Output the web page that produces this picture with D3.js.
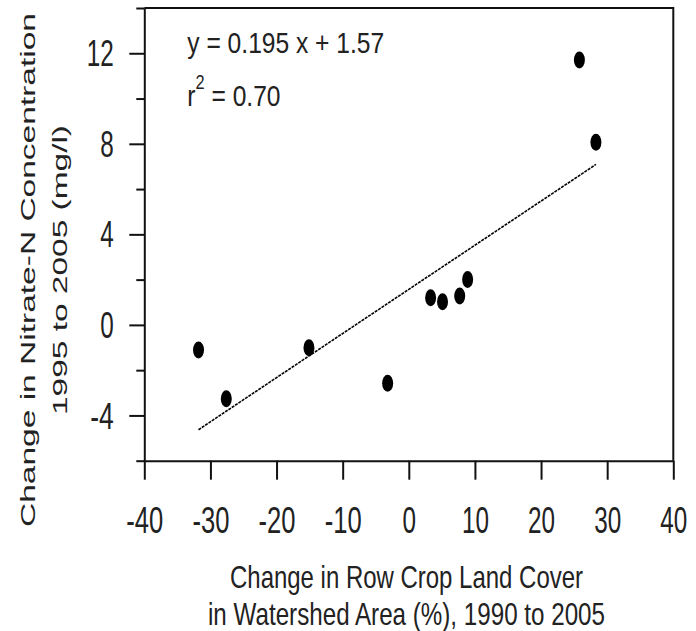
<!DOCTYPE html>
<html>
<head>
<meta charset="utf-8">
<script src="https://cdn.jsdelivr.net/npm/d3@7"></script>
<style>
  body { margin: 0; background: #fff; }
  svg { display: block; font-family: "Liberation Sans", Arial, sans-serif; }
</style>
</head>
<body>
<div id="chart"></div>
<script>
// Change in row crop land cover (%) vs change in nitrate-N (mg/l)
const rowCropChange = [-31.8, -27.6, -15.1, -3.2, 3.3, 5.1, 7.7, 8.9, 25.8, 28.3];
const nitrateChange = [-1.11, -3.26, -1.01, -2.58, 1.20, 1.02, 1.28, 2.01, 11.70, 8.07];

const xTicks = [-40, -30, -20, -10, 0, 10, 20, 30, 40];
const yMajorTicks = [-4, 0, 4, 8, 12];
const yMinorTicks = [-6, -2, 2, 6, 10, 14];

const fitSlope = 0.195;
const fitIntercept = 1.57;
const fitLabel = "y = 0.195 x + 1.57";
const r2Value = "0.70";

const xTitle = ["Change in Row Crop Land Cover", "in Watershed Area (%), 1990 to 2005"];
const yTitle = ["Change in Nitrate-N Concentration", "1995 to 2005 (mg/l)"];

const width = 696, height = 631;
const plotLeft = 144.3, plotRight = 673.3, plotTop = 8, plotBottom = 460.7;

const data = rowCropChange.map((x, i) => ({x, y: nitrateChange[i]}));

const x = d3.scaleLinear().domain([-40, 40]).range([plotLeft, plotRight]);
const y = d3.scaleLinear().domain([-6, 14]).range([plotBottom, plotTop]);

const svg = d3.select("#chart").append("svg")
  .attr("width", width)
  .attr("height", height)
  .attr("viewBox", [0, 0, width, height]);

// plain hyphen for negatives, as in the source
const fmt = d => String(d);
// squeezed digits, like the source picture
const labelWidth = s => s.replace("-", "").length * 13.5 + (s.includes("-") ? 10 : 0);

// x axis
svg.append("g")
  .attr("transform", `translate(0,${plotBottom})`)
  .call(d3.axisBottom(x).tickValues(xTicks).tickSize(19).tickSizeOuter(0).tickFormat(fmt))
  .call(g => g.selectAll("line, path").attr("stroke", "#111").attr("stroke-width", 2))
  .call(g => g.selectAll(".tick text")
    .attr("y", 72.6).attr("dy", 0)
    .attr("fill", "#222")
    .style("font-size", "36px")
    .attr("textLength", function() { return labelWidth(this.textContent); })
    .attr("lengthAdjust", "spacingAndGlyphs"));

// y axis, major ticks with labels
svg.append("g")
  .attr("transform", `translate(${plotLeft},0)`)
  .call(d3.axisLeft(y).tickValues(yMajorTicks).tickSize(15).tickSizeOuter(0).tickFormat(fmt))
  .call(g => g.selectAll("line, path").attr("stroke", "#111").attr("stroke-width", 2))
  .call(g => g.selectAll(".tick text")
    .attr("x", -30.5).attr("dy", "0.35em")
    .attr("fill", "#222")
    .style("font-size", "36px")
    .attr("textLength", function() { return labelWidth(this.textContent); })
    .attr("lengthAdjust", "spacingAndGlyphs"));

// y axis, minor ticks
svg.append("g")
  .attr("transform", `translate(${plotLeft},0)`)
  .call(d3.axisLeft(y).tickValues(yMinorTicks).tickSize(8).tickFormat(""))
  .call(g => g.select(".domain").remove())
  .call(g => g.selectAll("line").attr("stroke", "#111").attr("stroke-width", 2));

// top and right frame
svg.append("path")
  .attr("d", `M${plotLeft},${plotTop}H${plotRight}V${plotBottom}`)
  .attr("fill", "none")
  .attr("stroke", "#111")
  .attr("stroke-width", 2);

// regression line
const [xMin, xMax] = d3.extent(rowCropChange);
svg.append("line")
  .attr("x1", x(xMin)).attr("y1", y(fitSlope * xMin + fitIntercept))
  .attr("x2", x(xMax)).attr("y2", y(fitSlope * xMax + fitIntercept))
  .attr("stroke", "#000")
  .attr("stroke-width", 1.6)
  .attr("stroke-dasharray", "3,1");

// points (stretched vertically, as in the source)
svg.append("g")
  .selectAll("ellipse")
  .data(data)
  .join("ellipse")
  .attr("cx", d => x(d.x))
  .attr("cy", d => y(d.y))
  .attr("rx", 5.5)
  .attr("ry", 8.5)
  .attr("fill", "#000");

// equation and r^2
const note = svg.append("g")
  .attr("transform", "translate(187.3,0) scale(0.82,1)")
  .attr("fill", "#222")
  .style("font-size", "30px");
note.append("text").attr("y", 53.3).text(fitLabel);
const r2 = note.append("text").attr("y", 106);
r2.append("tspan").text("r");
r2.append("tspan").attr("dy", -16.5).style("font-size", "20px").text("2");
r2.append("tspan").attr("dy", 16.5).text(" = " + r2Value);

// x title
svg.append("g")
  .attr("fill", "#222")
  .attr("text-anchor", "middle")
  .style("font-size", "32px")
  .selectAll("text")
  .data(xTitle)
  .join("text")
  .attr("x", 406.5)
  .attr("y", (d, i) => 588 + i * 37)
  .attr("textLength", (d, i) => [353, 397][i])
  .attr("lengthAdjust", "spacingAndGlyphs")
  .text(d => d);

// y title
svg.append("g")
  .attr("fill", "#222")
  .attr("text-anchor", "middle")
  .style("font-size", "21px")
  .selectAll("text")
  .data(yTitle)
  .join("text")
  .attr("transform", (d, i) => `translate(${[34.5, 66.7][i]},270) rotate(-90)`)
  .attr("textLength", (d, i) => [514, 290][i])
  .attr("lengthAdjust", "spacingAndGlyphs")
  .text(d => d);
</script>
</body>
</html>
